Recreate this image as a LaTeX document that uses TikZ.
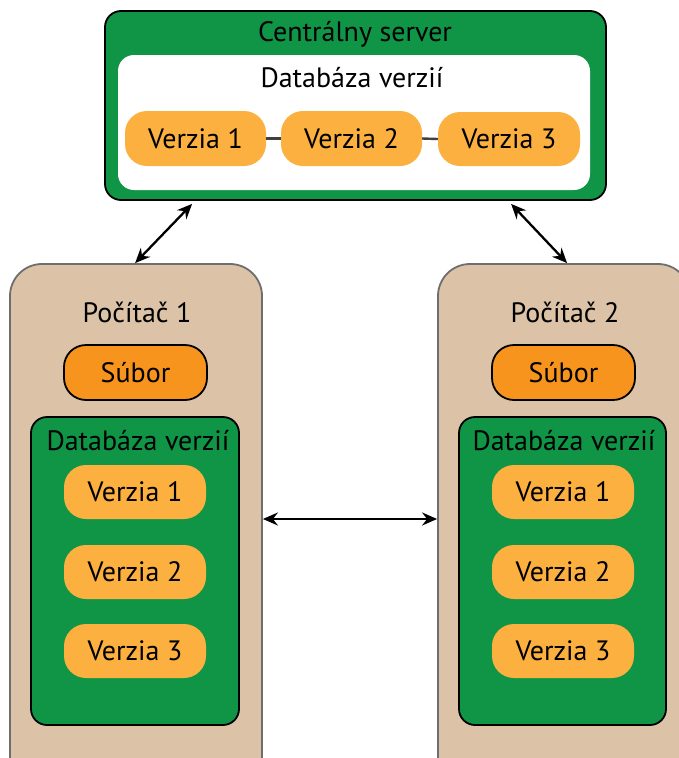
\documentclass[tikz,border=0pt]{standalone}
\usepackage{fontspec}
\setmainfont{PT Sans}
\usetikzlibrary{arrows.meta,calc}
\definecolor{srvgreen}{RGB}{16,148,70}
\definecolor{pillc}{RGB}{251,176,64}
\definecolor{filec}{RGB}{247,148,30}
\definecolor{tan}{RGB}{220,195,167}
\definecolor{tanborder}{RGB}{109,110,112}
\tikzset{
  txt/.style={font=\fontsize{28}{32}\selectfont, text=black, inner sep=0pt},
  pill/.style={txt, fill=pillc, rounded corners=22pt, minimum width=142pt, minimum height=54pt},
  filebox/.style={txt, fill=filec, draw=black, line width=1.8pt, rounded corners=22pt, minimum width=143pt, minimum height=55pt},
  greenbox/.style={fill=srvgreen, draw=black, line width=1.8pt, rounded corners=16pt},
  compbox/.style={fill=tan, draw=tanborder, line width=1.8pt, rounded corners=32pt, minimum width=252pt, minimum height=526pt},
  whitebox/.style={fill=white, rounded corners=16pt, minimum width=472pt, minimum height=135pt},
  arr/.style={line width=2.3pt, {Stealth[length=15pt,width=13pt,inset=5pt]}-{Stealth[length=15pt,width=13pt,inset=5pt]}},
  link/.style={draw=black!75, line width=2.4pt},
}
\begin{document}
\begin{tikzpicture}[x=1pt,y=-1pt]
\useasboundingbox (0,0) rectangle (679,758);
\begin{scope}
\clip (0,0) rectangle (679,758);
% server
\node[greenbox, minimum width=501pt, minimum height=189pt] (server) at (355.5,105.5) {};
\node[txt] (srvtitle) at (355,34) {Centrálny server};
\node[whitebox] (srvdb) at (354,122.5) {};
\node[txt] (srvdbtitle) at (352,78) {Databáza verzií};
\node[pill, minimum width=141pt, minimum height=55pt] (s1) at (195.5,138.5) {Verzia 1};
\node[pill, minimum width=141pt, minimum height=55pt] (s2) at (351.5,138.5) {Verzia 2};
\node[pill, minimum width=142pt, minimum height=54pt] (s3) at (509,139) {Verzia 3};
\draw[link] (s1.east) -- (s2.west);
\draw[link] (s2.east) -- (s3.west);
% computer 1
\node[compbox] (c1) at (136,527) {};
\node[txt] (c1title) at (137,312) {Počítač 1};
\node[filebox] (f1) at (135.5,372.5) {Súbor};
\node[greenbox, minimum width=208pt, minimum height=308pt] (d1) at (135,571) {};
\node[txt] (d1title) at (138,441) {Databáza verzií};
\node[pill] (a1) at (135,492) {Verzia 1};
\node[pill] (a2) at (135,572) {Verzia 2};
\node[pill] (a3) at (135,651) {Verzia 3};
% computer 2
\node[compbox] (c2) at (564,527) {};
\node[txt] (c2title) at (565,312) {Počítač 2};
\node[filebox] (f2) at (563.5,372.5) {Súbor};
\node[greenbox, minimum width=207pt, minimum height=308pt] (d2) at (562.5,571) {};
\node[txt] (d2title) at (564,441) {Databáza verzií};
\node[pill] (b1) at (563,492) {Verzia 1};
\node[pill] (b2) at (563,572) {Verzia 2};
\node[pill] (b3) at (563,651) {Verzia 3};
% arrows
\draw[arr] ([xshift=88pt,yshift=-3pt]server.south west) -- ([xshift=126pt]c1.north west);
\draw[arr] ([xshift=407pt,yshift=-3pt]server.south west) -- ([xshift=130pt]c2.north west);
\draw[arr] ([yshift=8pt]c1.east) -- ([yshift=8pt]c2.west);
\end{scope}
\end{tikzpicture}
\end{document}
